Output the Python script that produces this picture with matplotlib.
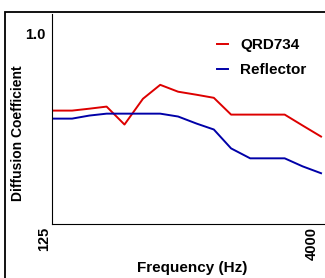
import matplotlib

matplotlib.use("Agg")
import matplotlib.pyplot as plt
import matplotlib.transforms as mtransforms
from matplotlib.patches import Rectangle

plt.rcParams["font.family"] = ["Liberation Sans", "DejaVu Sans"]
plt.rcParams["font.weight"] = "bold"

# third-octave band centres (Hz)
freqs = [125, 160, 200, 250, 315, 400, 500, 630, 800, 1000,
         1250, 1600, 2000, 2500, 3150, 4000]
qrd734 = [0.594, 0.594, 0.604, 0.615, 0.521, 0.656, 0.729, 0.693,
          0.677, 0.661, 0.573, 0.573, 0.573, 0.573, 0.516, 0.458]
reflector = [0.552, 0.552, 0.568, 0.578, 0.578, 0.578, 0.578, 0.563,
             0.526, 0.495, 0.396, 0.344, 0.344, 0.344, 0.302, 0.266]
x_ticks = [125, 4000]
y_ticks = [1.0]

W, H = 325, 278
fig = plt.figure(figsize=(W / 100, H / 100), dpi=100)

# outer frame that runs off the right/bottom of the image
fig.patches.append(
    Rectangle((5 / W, -0.2), 1.3, 1.2 - 12 / H, transform=fig.transFigure,
              fill=False, edgecolor="black", linewidth=1.3, clip_on=False)
)

ax = fig.add_axes([52 / W, (H - 224) / H, (W - 52) / W, 210 / H])

ax.plot(freqs, qrd734, color="#dd0000", linewidth=1.4, label="QRD734")
ax.plot(freqs, reflector, color="#0000a8", linewidth=1.4, label="Reflector")

ax.set_xscale("log")
ax.set_xlim(123.4, 4210)
ax.set_ylim(0, 1.1)
ax.set_xticks(x_ticks)
ax.set_xticklabels([str(t) for t in x_ticks], rotation=90, ha="right", va="top")
ax.xaxis.set_minor_locator(matplotlib.ticker.NullLocator())
ax.set_yticks(y_ticks)
ax.set_yticklabels([f"{t:.1f}" for t in y_ticks])
ax.tick_params(axis="both", length=0, labelsize=10.5)
ax.tick_params(axis="x", pad=2)
ax.tick_params(axis="y", pad=5)

# nudge the rotated frequency labels a little to the left
shift = mtransforms.ScaledTranslation(-2 / 100, 0, fig.dpi_scale_trans)
for lbl in ax.get_xticklabels():
    lbl.set_transform(lbl.get_transform() + shift)

for side in ["top", "right"]:
    ax.spines[side].set_visible(False)
for side in ["left", "bottom"]:
    ax.spines[side].set_linewidth(0.8)

fig.text(18 / W, 1 - 133 / H, "Diffusion Coefficient", rotation=90,
         ha="center", va="center", fontsize=10, fontweight="bold")
fig.text(192 / W, 1 - 268 / H, "Frequency (Hz)", ha="center", va="center",
         fontsize=11, fontweight="bold")

ax.legend(loc="upper left", bbox_to_anchor=(217 / W, 1 - 38.5 / H),
          bbox_transform=fig.transFigure, frameon=False, borderpad=0,
          borderaxespad=0, handlelength=0.72, handletextpad=0.78,
          labelspacing=0.7, prop={"size": 11, "weight": "bold"})

plt.savefig("out.png", dpi=100)
